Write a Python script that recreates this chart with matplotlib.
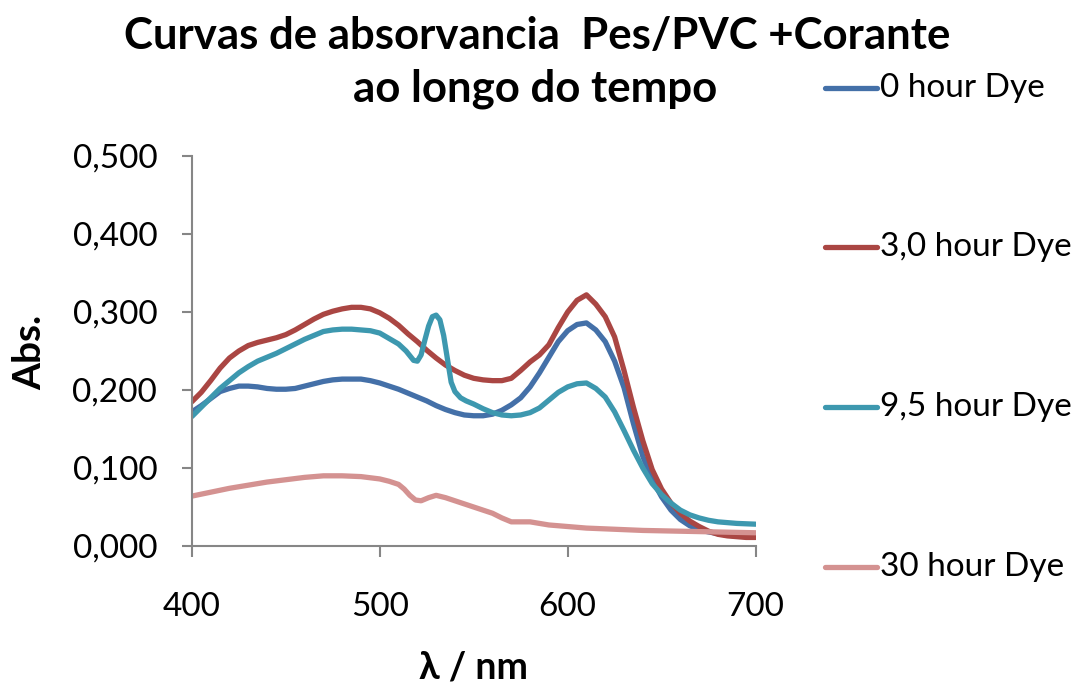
import numpy as np
import matplotlib.pyplot as plt

plt.rcParams['font.family'] = ['Lato', 'DejaVu Sans']

# wavelengths (nm), 5 nm steps for the 0 h and 3,0 h series
wl = list(range(400, 705, 5))

abs_0h = [0.172, 0.180, 0.189, 0.198, 0.202, 0.205, 0.205, 0.204, 0.202, 0.201,
          0.201, 0.202, 0.205, 0.208, 0.211, 0.213, 0.214, 0.214, 0.214, 0.212,
          0.209, 0.205, 0.201, 0.196, 0.191, 0.186, 0.180, 0.175, 0.171, 0.168,
          0.167, 0.167, 0.169, 0.174, 0.181, 0.190, 0.204, 0.222, 0.242, 0.262,
          0.276, 0.284, 0.286, 0.277, 0.262, 0.237, 0.203, 0.157, 0.115, 0.085,
          0.063, 0.046, 0.034, 0.026, 0.021, 0.018, 0.016, 0.014, 0.013, 0.012,
          0.012]

abs_3h = [0.185, 0.197, 0.212, 0.228, 0.241, 0.250, 0.257, 0.261, 0.264, 0.267,
          0.271, 0.277, 0.284, 0.291, 0.297, 0.301, 0.304, 0.306, 0.306, 0.304,
          0.299, 0.292, 0.283, 0.272, 0.262, 0.251, 0.241, 0.232, 0.225, 0.219,
          0.215, 0.213, 0.212, 0.212, 0.215, 0.225, 0.236, 0.245, 0.258, 0.280,
          0.300, 0.315, 0.322, 0.310, 0.294, 0.268, 0.225, 0.178, 0.135, 0.098,
          0.073, 0.055, 0.042, 0.032, 0.025, 0.019, 0.015, 0.013, 0.012, 0.011,
          0.011]

wl_95 = [400, 405, 410, 415, 420, 425, 430, 435, 440, 445, 450, 455, 460, 465,
         470, 475, 480, 485, 490, 495, 500, 505, 510, 514, 518, 520, 522, 524,
         526, 528, 530, 532, 534, 536, 538, 540, 543, 546, 550, 555, 560, 565,
         570, 575, 580, 585, 590, 595, 600, 605, 610, 615, 620, 625, 630, 635,
         640, 645, 650, 655, 660, 665, 670, 675, 680, 690, 700]
abs_95h = [0.166, 0.178, 0.190, 0.202, 0.212, 0.222, 0.230, 0.237, 0.242, 0.247,
           0.253, 0.259, 0.265, 0.270, 0.275, 0.277, 0.278, 0.278, 0.277, 0.276,
           0.273, 0.266, 0.259, 0.250, 0.238, 0.237, 0.245, 0.264, 0.282, 0.294,
           0.296, 0.290, 0.270, 0.240, 0.210, 0.198, 0.190, 0.186, 0.182, 0.176,
           0.171, 0.168, 0.167, 0.168, 0.171, 0.177, 0.187, 0.197, 0.204, 0.208,
           0.209, 0.202, 0.191, 0.172, 0.148, 0.123, 0.100, 0.080, 0.066, 0.055,
           0.046, 0.040, 0.036, 0.033, 0.031, 0.029, 0.028]

wl_30 = [400, 410, 420, 430, 440, 450, 460, 470, 480, 490, 500, 505, 510, 513,
         516, 519, 522, 526, 530, 535, 540, 545, 550, 555, 560, 565, 570, 575,
         580, 585, 590, 600, 610, 620, 640, 660, 680, 700]
abs_30h = [0.064, 0.069, 0.074, 0.078, 0.082, 0.085, 0.088, 0.090, 0.090, 0.089,
           0.086, 0.083, 0.079, 0.073, 0.065, 0.059, 0.058, 0.062, 0.065, 0.062,
           0.058, 0.054, 0.050, 0.046, 0.042, 0.036, 0.031, 0.031, 0.031, 0.029,
           0.027, 0.025, 0.023, 0.022, 0.020, 0.019, 0.018, 0.017]

labels = ['0 hour Dye', '3,0 hour Dye', '9,5 hour Dye', '30 hour Dye']
colors = ['#4470A8', '#AA4643', '#3D98AF', '#D49291']

fig = plt.figure(figsize=(10.84, 6.97), dpi=100)
ax = fig.add_axes([0.177, 0.2166, 0.52, 0.5596])

lines = []
for x, y, c in zip([wl, wl, wl_95, wl_30], [abs_0h, abs_3h, abs_95h, abs_30h], colors):
    l, = ax.plot(x, y, color=c, lw=3.8, solid_capstyle='round', solid_joinstyle='round')
    lines.append(l)

ax.set_xlim(400, 700)
ax.set_ylim(0, 0.5)
ax.set_xticks([400, 500, 600, 700])
yt = np.arange(0, 0.51, 0.1)
ax.set_yticks(yt)
ax.set_yticklabels([('%.3f' % v).replace('.', ',') for v in yt])
ax.tick_params(labelsize=24, color='#868686', width=1.5)
ax.tick_params(axis='y', length=7, pad=18)
ax.tick_params(axis='x', length=8, pad=25)
for s in ['top', 'right']:
    ax.spines[s].set_visible(False)
for s in ['left', 'bottom']:
    ax.spines[s].set_color('#868686')
    ax.spines[s].set_linewidth(1.5)

fig.text(0.496, 0.948, 'Curvas de absorvancia  Pes/PVC +Corante', ha='center', va='center',
         fontsize=31.5, fontweight='bold')
fig.text(0.494, 0.872, 'ao longo do tempo', ha='center', va='center',
         fontsize=31.5, fontweight='bold')
fig.text(0.027, 0.495, 'Abs.', rotation=90, ha='center', va='center',
         fontsize=28, fontweight='bold')
fig.text(0.437, 0.042, 'λ / nm', ha='center', va='center',
         fontsize=27, fontweight='bold')

# legend entries stacked on the right
ypos = [0.874, 0.646, 0.416, 0.187]
for l, lab, yy in zip(lines, labels, ypos):
    fig.lines.append(plt.Line2D([0.761, 0.809], [yy, yy], transform=fig.transFigure,
                                color=l.get_color(), lw=3.8, solid_capstyle='round'))
    fig.text(0.812, yy, lab, ha='left', va='center', fontsize=24)

fig.savefig('out.png', dpi=100)
